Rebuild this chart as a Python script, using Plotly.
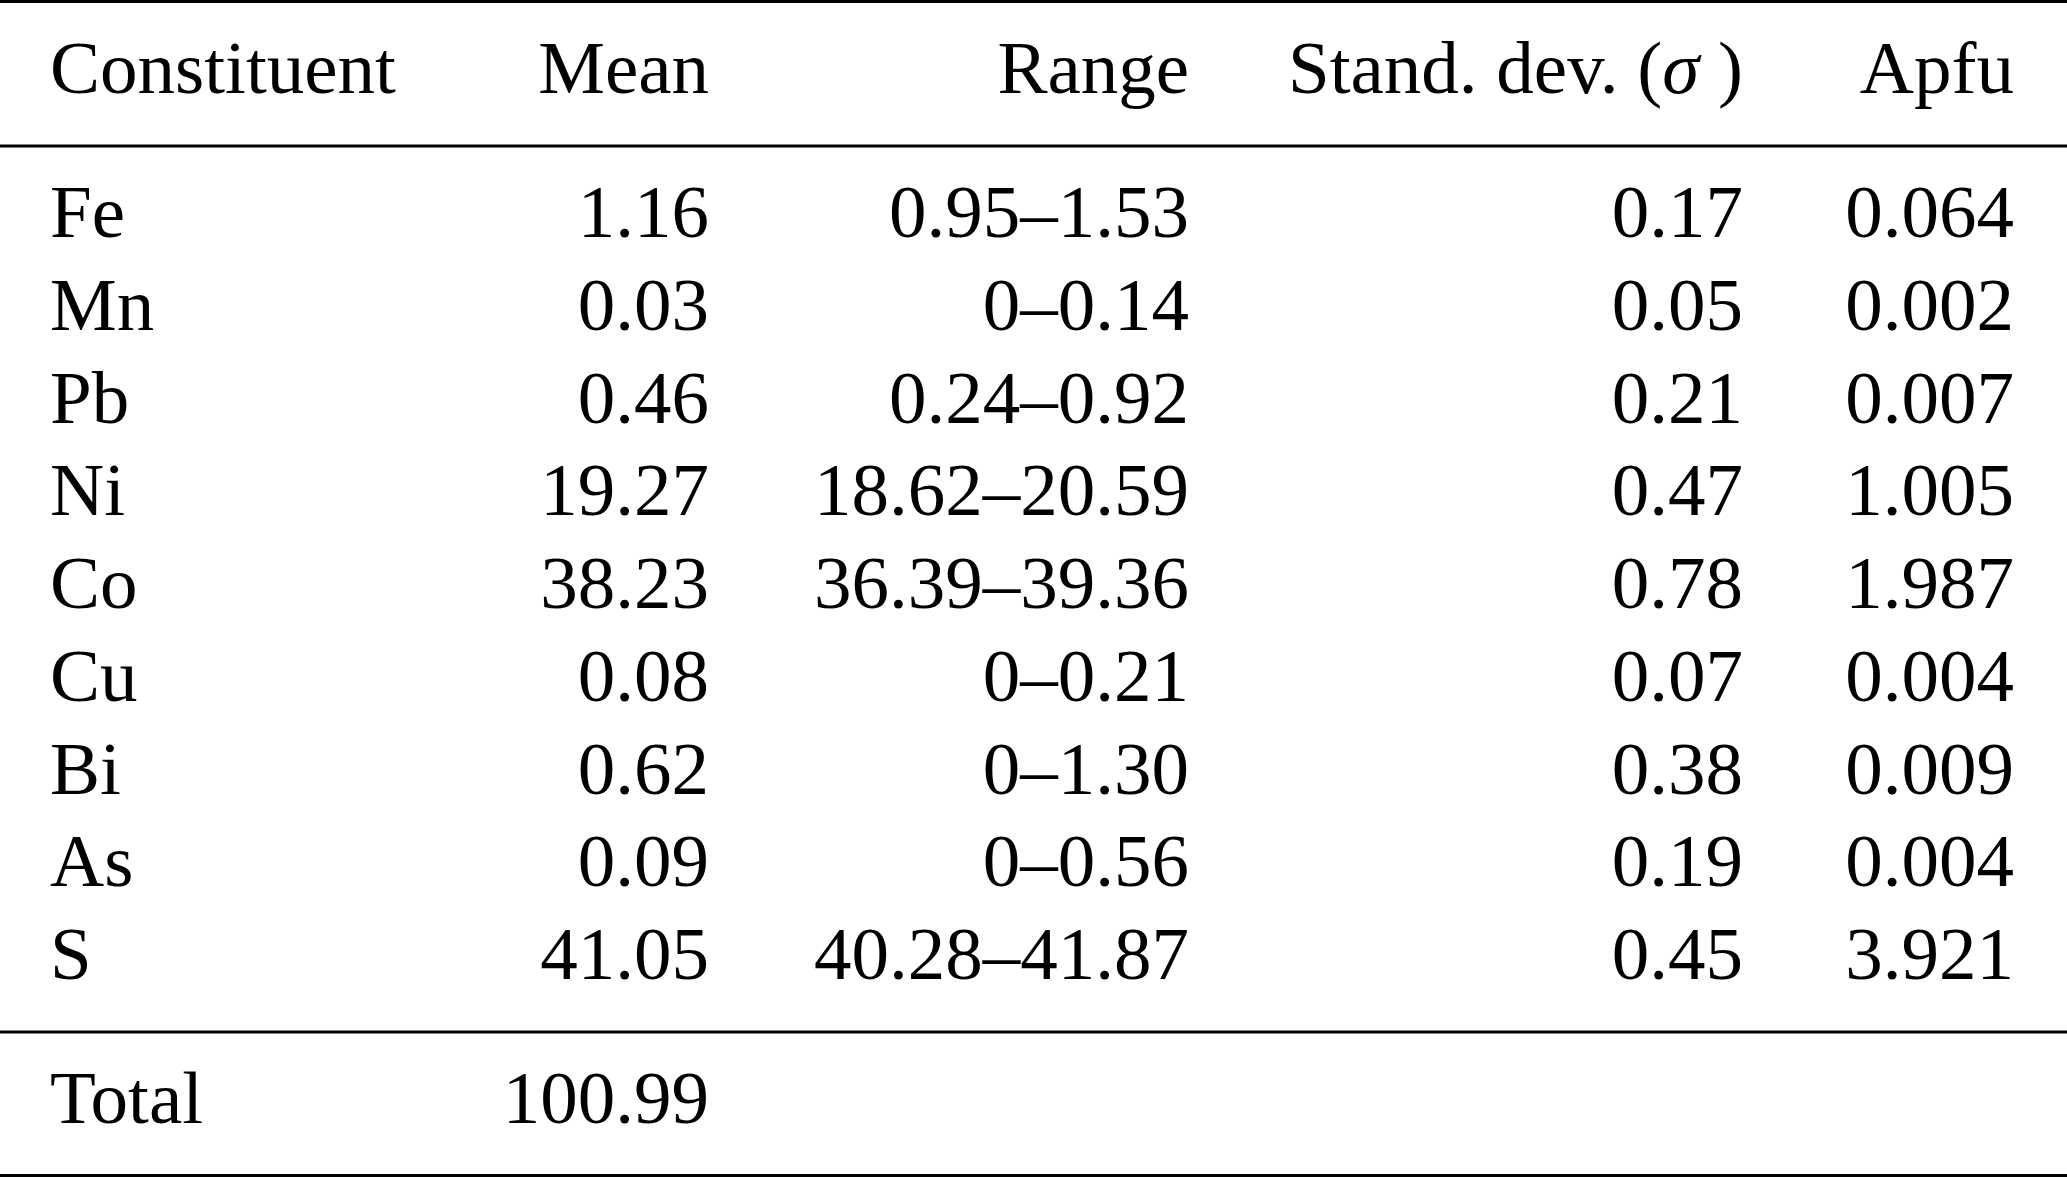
import plotly.graph_objects as go

# table contents
constituents = ["Fe", "Mn", "Pb", "Ni", "Co", "Cu", "Bi", "As", "S"]
means = ["1.16", "0.03", "0.46", "19.27", "38.23", "0.08", "0.62", "0.09", "41.05"]
ranges = ["0.95–1.53", "0–0.14", "0.24–0.92", "18.62–20.59", "36.39–39.36",
          "0–0.21", "0–1.30", "0–0.56", "40.28–41.87"]
std_devs = ["0.17", "0.05", "0.21", "0.47", "0.78", "0.07", "0.38", "0.19", "0.45"]
apfu = ["0.064", "0.002", "0.007", "1.005", "1.987", "0.004", "0.009", "0.004", "3.921"]
headers = ["Constituent", "Mean", "Range", "Stand. dev. (<i>σ</i> )", "Apfu"]
total_label = "Total"
total_mean = "100.99"

W, H = 2067, 1178
FONT = dict(family="Liberation Serif, Times New Roman, serif", size=75, color="black")

# layout in pixels
first_baseline = 237
pitch = 92.75
header_baseline = 93
total_baseline = 1123
text_shift = 0.25 * FONT["size"]  # plotly puts the baseline this far under the point

col_left = 50
col_rights = [709, 1189, 1743, 2014]
rules = [(1.5, 3), (146, 3), (1032, 3), (1175.5, 3)]


def ypos(baseline):
    return baseline - text_shift


row_y = [ypos(first_baseline + pitch * i) for i in range(len(constituents))]
head_y = ypos(header_baseline)
total_y = ypos(total_baseline)

fig = go.Figure()

# header
fig.add_trace(go.Scatter(x=[col_left], y=[head_y], text=[headers[0]], mode="text",
                         textposition="middle right", textfont=FONT, hoverinfo="skip"))
fig.add_trace(go.Scatter(x=col_rights, y=[head_y] * 4, text=headers[1:], mode="text",
                         textposition="middle left", textfont=FONT, hoverinfo="skip"))

# body
fig.add_trace(go.Scatter(x=[col_left] * len(constituents), y=row_y, text=constituents,
                         mode="text", textposition="middle right", textfont=FONT,
                         hoverinfo="skip"))
for xr, col in zip(col_rights, [means, ranges, std_devs, apfu]):
    fig.add_trace(go.Scatter(x=[xr] * len(col), y=row_y, text=col, mode="text",
                             textposition="middle left", textfont=FONT, hoverinfo="skip"))

# total row
fig.add_trace(go.Scatter(x=[col_left], y=[total_y], text=[total_label], mode="text",
                         textposition="middle right", textfont=FONT, hoverinfo="skip"))
fig.add_trace(go.Scatter(x=[col_rights[0]], y=[total_y], text=[total_mean], mode="text",
                         textposition="middle left", textfont=FONT, hoverinfo="skip"))

for y, w in rules:
    fig.add_shape(type="line", x0=0, x1=W, y0=y, y1=y, xref="x", yref="y",
                  line=dict(color="black", width=w))

fig.update_layout(
    width=W, height=H,
    margin=dict(l=0, r=0, t=0, b=0),
    paper_bgcolor="white", plot_bgcolor="white",
    showlegend=False,
    xaxis=dict(range=[0, W], visible=False, fixedrange=True),
    yaxis=dict(range=[H, 0], visible=False, fixedrange=True),
)

# no page margin so the table sits flush with the window
fig.write_html("out.html", config={"displayModeBar": False},
               post_script="document.body.style.margin='0';document.body.style.overflow='hidden';")
